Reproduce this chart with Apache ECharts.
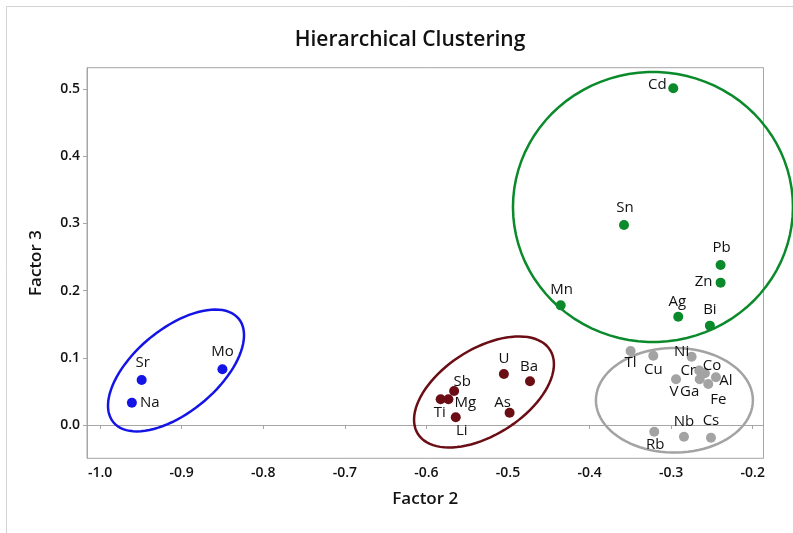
<!DOCTYPE html>
<html><head><meta charset="utf-8">
<script src="https://cdn.jsdelivr.net/npm/echarts@6/dist/echarts.min.js"></script>
<style>html,body{margin:0;padding:0;background:#fff}#c{width:793px;height:533px}</style>
</head><body><div id="c"></div>
<script>
// ---- data ----
const xTicks = [-1.0, -0.9, -0.8, -0.7, -0.6, -0.5, -0.4, -0.3, -0.2];
const yTicks = [0.0, 0.1, 0.2, 0.3, 0.4, 0.5];

const blueNames = ['Sr', 'Na', 'Mo'];
const blueX = [-0.949, -0.961, -0.850];
const blueY = [0.067, 0.033, 0.083];

const maroonNames = ['Sb', 'Ti', 'Mg', 'Li', 'U', 'Ba', 'As'];
const maroonX = [-0.566, -0.5825, -0.573, -0.564, -0.505, -0.473, -0.498];
const maroonY = [0.0506, 0.0382, 0.0382, 0.0115, 0.0759, 0.065, 0.0183];

const greenNames = ['Cd', 'Sn', 'Pb', 'Zn', 'Mn', 'Ag', 'Bi'];
const greenX = [-0.2974, -0.3578, -0.2394, -0.2394, -0.4354, -0.2913, -0.2525];
const greenY = [0.501, 0.2976, 0.238, 0.2118, 0.178, 0.161, 0.1478];

const grayNames = ['Tl', 'Cu', 'Ni', 'Cr', 'Co', 'Al', 'Fe', 'V', 'Ga', 'Nb', 'Cs', 'Rb'];
const grayX = [-0.3497, -0.3219, -0.2749, -0.2656, -0.2586, -0.2451, -0.2545, -0.294, -0.265, -0.2843, -0.2512, -0.3207];
const grayY = [0.1101, 0.1031, 0.1016, 0.081, 0.077, 0.071, 0.061, 0.068, 0.068, -0.0174, -0.0189, -0.010];

// cluster outlines: centre and two semi-axis vectors, in data units
const blueRegion   = {c: [-0.9069, 0.0811], u: [0.07677, 0.07711], v: [-0.03249, 0.04770]};
const maroonRegion = {c: [-0.5294, 0.0491], u: [0.08093, 0.06260], v: [-0.02831, 0.05397]};
const greenRegion  = {c: [-0.3223, 0.3244], u: [0.1716, 0], v: [0, 0.2009]};
const grayRegion   = {c: [-0.2960, 0.0368], u: [0.0962, 0], v: [0, 0.0778]};

// label placement (label centre relative to marker, px)
const labelOffsets = {
  Cd: [-16, -4], Sn: [1, -17], Pb: [1, -17], Zn: [-17, -1], Mn: [1, -16], Ag: [-1, -15], Bi: [0, -16],
  Sr: [1, -17], Na: [18, 0], Mo: [0, -17],
  Sb: [8, -9], Mg: [17, 3], Ti: [-1, 13], Li: [6, 13], U: [0, -15], Ba: [-1, -15], As: [-7, -10],
  Tl: [0, 12], Cu: [0, 14], Ni: [-10, -5], Cr: [-11, 0], Co: [7, -7], Al: [10, 3], Fe: [10, 16],
  V: [-2, 12], Ga: [-10, 12], Nb: [0, -15], Cs: [0, -17], Rb: [1, 13]
};

const COL = {blue: '#1414e6', maroon: '#6b0d14', green: '#0a8a2a', gray: '#a3a3a3'};
const FONT = 'Open Sans';

function pts(names, xs, ys) {
  return names.map((n, i) => ({name: n, value: [xs[i], ys[i]], label: {offset: labelOffsets[n]}}));
}
function scatter(names, xs, ys, color) {
  return {
    type: 'scatter', data: pts(names, xs, ys), symbolSize: 10, z: 5,
    itemStyle: {color: color, opacity: 1},
    label: {show: true, formatter: '{b}', position: 'inside', color: '#111', fontSize: 15, fontFamily: FONT},
    emphasis: {disabled: true}
  };
}
function region(r, color) {
  return {
    type: 'custom', clip: false, z: 2, silent: true,
    data: [r.c],
    renderItem: function (params, api) {
      const points = [];
      const N = 90;
      for (let k = 0; k < N; k++) {
        const t = 2 * Math.PI * k / N;
        const x = r.c[0] + Math.cos(t) * r.u[0] + Math.sin(t) * r.v[0];
        const y = r.c[1] + Math.cos(t) * r.u[1] + Math.sin(t) * r.v[1];
        points.push(api.coord([x, y]));
      }
      return {type: 'polygon', shape: {points: points}, style: {fill: 'none', stroke: color, lineWidth: 2.5}};
    }
  };
}

const chart = echarts.init(document.getElementById('c'), null, {renderer: 'canvas'});
const axisCol = '#a6a6a6';
chart.setOption({
  animation: false,
  backgroundColor: '#fff',
  title: {
    text: 'Hierarchical Clustering', left: 405, top: 25, textAlign: 'center',
    textStyle: {fontFamily: FONT, fontSize: 21, fontWeight: 600, color: '#111'}
  },
  graphic: [{
    type: 'rect', shape: {x: 6.5, y: 6.5, width: 820, height: 560},
    style: {fill: 'none', stroke: '#d4d4d4', lineWidth: 1}, silent: true
  }],
  grid: {left: 87, right: 29.5, top: 67.7, bottom: 74.7, show: true, borderColor: axisCol, borderWidth: 1},
  xAxis: {
    type: 'value', min: -1.016, max: -0.1868,
    name: 'Factor 2', nameLocation: 'middle', nameGap: 32,
    nameTextStyle: {fontFamily: FONT, fontSize: 17, fontWeight: 600, color: '#111'},
    axisLine: {show: true, lineStyle: {color: axisCol}},
    axisTick: {show: true, length: 4, lineStyle: {color: axisCol}, customValues: xTicks},
    axisLabel: {customValues: xTicks, margin: 8, fontFamily: FONT, fontSize: 14, fontWeight: 600, color: '#111',
      formatter: v => v.toFixed(1)},
    splitLine: {show: false}
  },
  yAxis: {
    type: 'value', min: -0.0496, max: 0.5317,
    name: 'Factor 3', nameLocation: 'middle', nameGap: 42,
    nameTextStyle: {fontFamily: FONT, fontSize: 17, fontWeight: 600, color: '#111'},
    axisLine: {show: true, lineStyle: {color: axisCol}},
    axisTick: {show: true, length: 4, lineStyle: {color: axisCol}, customValues: yTicks},
    axisLabel: {customValues: yTicks, margin: 7, fontFamily: FONT, fontSize: 14, fontWeight: 600, color: '#111',
      formatter: v => v.toFixed(1)},
    splitLine: {show: false}
  },
  series: [
    region(blueRegion, COL.blue),
    region(maroonRegion, COL.maroon),
    region(greenRegion, COL.green),
    region(grayRegion, COL.gray),
    scatter(blueNames, blueX, blueY, COL.blue),
    scatter(maroonNames, maroonX, maroonY, COL.maroon),
    scatter(greenNames, greenX, greenY, COL.green),
    scatter(grayNames, grayX, grayY, COL.gray)
  ]
});
</script>
</body></html>
